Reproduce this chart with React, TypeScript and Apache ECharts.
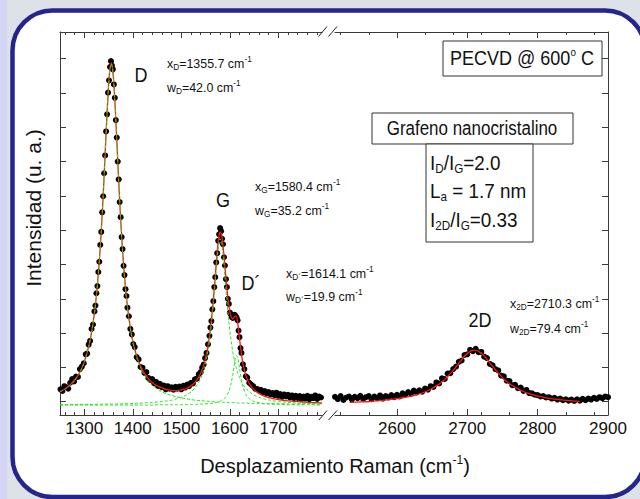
import React, { useEffect, useRef } from 'react';
import * as echarts from 'echarts';

// ---------- data ----------
const LEFT_MAJOR = [1300, 1400, 1500, 1600, 1700];
const LEFT_MINOR = [1260, 1280, 1320, 1340, 1360, 1380, 1420, 1440, 1460, 1480, 1520, 1540, 1560, 1580, 1620, 1640, 1660, 1680, 1720, 1740, 1760, 1780];
const RIGHT_MAJOR = [2600, 2700, 2800, 2900];
const RIGHT_MINOR = [2520, 2560, 2640, 2680, 2720, 2760, 2840, 2880];
const Y_TICKS = [0, 1, 2, 3, 4, 5, 6, 7, 8, 9, 10];

// measured spectrum, D / G / D' region
const RAMAN_LEFT: [number, number][] = [
  [1251, .36], [1255, .31], [1259, .45], [1263, .42], [1267, .38], [1271, .55], [1275, .66], [1279, .59], [1283, .73], [1287, .72],
  [1291, .95], [1295, 1.02], [1299, 1.12], [1303, 1.38], [1306, 1.40], [1309, 1.66], [1312, 1.77], [1315, 2.12], [1318, 2.25],
  [1321, 2.63], [1323, 2.80], [1325, 3.16], [1327, 3.37], [1329, 3.78], [1331, 4.08], [1333, 4.57], [1335, 4.95], [1337, 5.52],
  [1339, 5.99], [1341, 6.66], [1343, 7.18], [1345, 7.88], [1347, 8.38], [1349, 9.01], [1351, 9.37], [1353, 9.76], [1355, 9.93],
  [1357, 9.80], [1359, 9.69], [1361, 9.25], [1363, 8.86], [1365, 8.21], [1367, 7.70], [1369, 7.00], [1371, 6.48], [1373, 5.82],
  [1375, 5.38], [1377, 4.80], [1379, 4.45], [1381, 3.96], [1383, 3.69], [1385, 3.28], [1387, 3.08], [1389, 2.74], [1392, 2.49],
  [1395, 2.12], [1398, 1.96], [1401, 1.68], [1404, 1.59], [1408, 1.30], [1412, 1.23], [1416, 1.01],
  [1420, .99], [1424, .84], [1428, .86], [1432, .69], [1436, .63], [1440, .66], [1444, .53], [1448, .58], [1452, .46], [1456, .52],
  [1460, .42], [1464, .47], [1468, .36], [1472, .45], [1476, .38], [1480, .42], [1484, .35], [1488, .43], [1492, .38], [1496, .44],
  [1500, .36], [1504, .46], [1508, .41], [1512, .50], [1516, .45], [1520, .55], [1524, .53], [1528, .65], [1532, .67], [1536, .80],
  [1540, .86], [1543, .99], [1546, 1.08], [1549, 1.27], [1552, 1.42], [1555, 1.67], [1558, 1.92], [1560, 2.16], [1562, 2.35],
  [1564, 2.69], [1566, 2.93], [1568, 3.34], [1570, 3.63], [1572, 4.06], [1574, 4.33], [1576, 4.69], [1578, 4.88], [1580, 5.06],
  [1582, 4.97], [1584, 4.75], [1586, 4.59], [1588, 4.21], [1590, 3.97], [1592, 3.57], [1594, 3.34], [1596, 3.00], [1598, 2.85],
  [1600, 2.60], [1602, 2.55], [1604, 2.47], [1606, 2.44], [1608, 2.50], [1610, 2.53], [1612, 2.49], [1614, 2.45], [1616, 2.37],
  [1618, 2.07], [1620, 1.88], [1622, 1.56], [1624, 1.42], [1627, 1.09], [1630, .95], [1633, .74], [1636, .70], [1640, .55],
  [1644, .50], [1648, .45], [1652, .38], [1656, .37], [1660, .33], [1664, .34], [1668, .27], [1672, .31], [1676, .24], [1680, .28],
  [1684, .21], [1688, .25], [1692, .19], [1696, .26], [1700, .17], [1704, .22], [1708, .14], [1712, .21], [1716, .15], [1720, .20],
  [1724, .12], [1728, .18], [1732, .10], [1736, .17], [1740, .11], [1744, .16], [1748, .08], [1752, .15], [1756, .09], [1760, .17],
  [1764, .07], [1768, .14], [1772, .10], [1776, .18], [1780, .08], [1784, .15], [1788, .12],
];

// measured spectrum, 2D region
const RAMAN_RIGHT: [number, number][] = [
  [2512, .14], [2516, .07], [2520, .16], [2524, .05], [2528, .12], [2532, .15], [2536, .06], [2540, .14], [2544, .10], [2548, .17],
  [2552, .08], [2556, .13], [2560, .16], [2564, .07], [2568, .15], [2572, .10], [2576, .18], [2580, .09], [2584, .16], [2588, .12],
  [2592, .19], [2596, .13], [2600, .20], [2604, .15], [2608, .24], [2612, .20], [2616, .28], [2620, .23], [2624, .32], [2628, .27],
  [2632, .33], [2636, .29], [2640, .38], [2644, .35], [2648, .45], [2652, .43], [2656, .56], [2660, .53], [2664, .68], [2668, .66],
  [2672, .82], [2676, .83], [2680, .95], [2684, 1.02], [2688, 1.16], [2692, 1.20], [2696, 1.36], [2700, 1.38], [2704, 1.51],
  [2708, 1.47], [2712, 1.54], [2716, 1.44], [2720, 1.45], [2724, 1.31], [2728, 1.27], [2732, 1.10], [2736, 1.06], [2740, .95],
  [2744, .91], [2748, .76], [2752, .74], [2756, .61], [2760, .60], [2764, .48], [2768, .49], [2772, .39], [2776, .41], [2780, .31],
  [2784, .34], [2788, .25], [2792, .24], [2796, .20], [2800, .19], [2804, .15], [2808, .16], [2812, .12], [2816, .13], [2820, .09],
  [2824, .11], [2828, .06], [2832, .09], [2836, .04], [2840, .07], [2844, .03], [2848, .06], [2852, .02], [2856, .07], [2860, .03],
  [2864, .08], [2868, .04], [2872, .09], [2876, .06], [2880, .11], [2884, .08], [2888, .13], [2892, .10], [2896, .15], [2900, .13],
];

// fitted curves
const FIT_X = [1250, 1260, 1270, 1280, 1290, 1300, 1310, 1316, 1322, 1326, 1330, 1334, 1338, 1342, 1346, 1350, 1353, 1356, 1359, 1362,
  1366, 1370, 1374, 1378, 1382, 1386, 1390, 1396, 1402, 1410, 1420, 1430, 1440, 1450, 1460, 1470, 1480, 1490, 1500, 1510,
  1520, 1530, 1540, 1548, 1556, 1562, 1566, 1570, 1574, 1577, 1580, 1583, 1586, 1590, 1594, 1598, 1602, 1606, 1610, 1613,
  1616, 1620, 1624, 1628, 1634, 1640, 1650, 1660, 1670, 1680, 1700, 1720, 1740, 1760, 1790];
const FIT_TOTAL = [.29, .37, .48, .63, .84, 1.16, 1.66, 2.10, 2.71, 3.24, 3.91, 4.74, 5.74, 6.91, 8.13, 9.20, 9.72, 9.88, 9.64, 9.06,
  7.96, 6.73, 5.59, 4.62, 3.82, 3.17, 2.66, 2.07, 1.65, 1.25, .92, .71, .56, .46, .40, .35, .33, .32, .34, .38,
  .46, .59, .83, 1.15, 1.71, 2.37, 2.96, 3.66, 4.36, 4.76, 4.95, 4.87, 4.55, 3.93, 3.30, 2.80, 2.50, 2.41, 2.48, 2.50,
  2.33, 1.84, 1.38, 1.04, .72, .53, .35, .24, .17, .12, .06, .02, .00, -.02, -.04];
const FIT_D = [.28, .36, .46, .61, .82, 1.14, 1.64, 2.08, 2.68, 3.22, 3.88, 4.71, 5.72, 6.88, 8.10, 9.17, 9.69, 9.85, 9.61, 9.03,
  7.92, 6.70, 5.56, 4.58, 3.77, 3.13, 2.61, 2.03, 1.60, 1.20, .86, .64, .48, .37, .29, .22, .18, .14, .11, .08,
  .06, .04, .03, .02, .01, .00, .00, -.01, -.01, -.01, -.01, -.02, -.02, -.02, -.02, -.03, -.03, -.03, -.03, -.03,
  -.04, -.04, -.04, -.04, -.04, -.05, -.05, -.05, -.06, -.06, -.06, -.07, -.07, -.07, -.08];
const FIT_G = [-.09, -.09, -.08, -.08, -.08, -.08, -.08, -.08, -.08, -.08, -.08, -.08, -.07, -.07, -.07, -.07, -.07, -.07, -.07, -.07,
  -.07, -.07, -.07, -.06, -.06, -.06, -.06, -.06, -.05, -.05, -.04, -.03, -.03, -.01, .00, .02, .04, .08, .12, .19,
  .28, .43, .67, 1.01, 1.56, 2.22, 2.81, 3.50, 4.18, 4.58, 4.75, 4.65, 4.30, 3.64, 2.94, 2.33, 1.84, 1.46, 1.17, 1.00,
  .85, .70, .58, .48, .37, .29, .19, .13, .08, .05, .00, -.02, -.04, -.05, -.07];
const FIT_DP = [-.10, -.10, -.10, -.10, -.10, -.10, -.10, -.10, -.10, -.10, -.10, -.10, -.10, -.10, -.10, -.10, -.10, -.10, -.10, -.10,
  -.10, -.10, -.10, -.10, -.10, -.10, -.10, -.10, -.10, -.10, -.10, -.10, -.10, -.09, -.09, -.09, -.09, -.09, -.09, -.09,
  -.08, -.08, -.07, -.07, -.06, -.05, -.04, -.03, -.02, .00, .01, .04, .06, .11, .19, .30, .49, .78, 1.15, 1.34,
  1.31, .98, .63, .39, .19, .09, .00, -.03, -.06, -.07, -.08, -.09, -.09, -.09, -.10];

const FIT2D_X = [2533, 2550, 2570, 2590, 2610, 2630, 2645, 2660, 2670, 2680, 2690, 2700, 2710, 2720, 2730, 2740, 2750, 2760, 2775, 2790, 2810, 2830, 2860];
const FIT2D_TOTAL = [-.02, -.01, .02, .06, .12, .21, .33, .51, .69, .91, 1.17, 1.40, 1.50, 1.41, 1.18, .93, .70, .52, .34, .22, .12, .06, .01];

// ---------- styling ----------
const F = 'Arial, Liberation Sans, sans-serif';
const TXT = '#111111';
const AXIS = '#3a3a3a';
const RED = '#ff1515';
const GREEN = '#1fe41f';

function rich(size: number, sub: number) {
  return {
    a: { fontSize: size, fontFamily: F, fill: TXT, color: TXT, lineHeight: size + 4 },
    s: { fontSize: sub, fontFamily: F, fill: TXT, color: TXT, lineHeight: sub - 1, verticalAlign: 'bottom' },
    p: { fontSize: sub, fontFamily: F, fill: TXT, color: TXT, lineHeight: sub - 1, verticalAlign: 'top' },
  };
}

function txt(x: number, y: number, text: string, size: number, sub: number, align: string, scaleX = 1, rotation = 0) {
  return {
    type: 'text', x, y, z: 20, scaleX, rotation, silent: true,
    style: {
      text, rich: rich(size, sub), fontSize: size, fontFamily: F, fill: TXT,
      align, textAlign: align, verticalAlign: 'middle', textVerticalAlign: 'middle',
    },
  };
}

function box(x: number, y: number, w: number, h: number) {
  return { type: 'rect', z: 15, silent: true, shape: { x, y, width: w, height: h }, style: { fill: '#ffffff', stroke: '#333333', lineWidth: 1 } };
}

function slash(x1: number, y1: number, x2: number, y2: number) {
  return { type: 'line', z: 15, silent: true, shape: { x1, y1, x2, y2 }, style: { stroke: '#222222', lineWidth: 1 } };
}

function xAx(gridIndex: number, position: string, min: number, max: number, ticks: number[], len: number, line: boolean, labels: boolean) {
  return {
    type: 'value', gridIndex, position, min, max,
    axisLine: { show: line, onZero: false, lineStyle: { color: AXIS, width: 1 } },
    axisTick: { show: true, inside: true, length: len, customValues: ticks, lineStyle: { color: AXIS, width: 1 } },
    axisLabel: labels
      ? { show: true, customValues: ticks, fontSize: 17, fontFamily: F, color: TXT, margin: 5, formatter: (v: number) => String(v) }
      : { show: false },
    splitLine: { show: false },
    minorTick: { show: false },
  };
}

function yAx(gridIndex: number, position: string) {
  return {
    type: 'value', gridIndex, position, min: -0.39, max: 10.78,
    axisLine: { show: true, onZero: false, lineStyle: { color: AXIS, width: 1 } },
    axisTick: { show: true, inside: true, length: 6, customValues: Y_TICKS, lineStyle: { color: AXIS, width: 1 } },
    axisLabel: { show: false },
    splitLine: { show: false },
  };
}

const pairs = (xs: number[], ys: number[]) => xs.map((x, i) => [x, ys[i]]);

export default function App() {
  const ref = useRef<HTMLDivElement>(null);

  useEffect(() => {
    if (!ref.current) return;
    const chart = echarts.init(ref.current, undefined, { renderer: 'svg' });

    const greenLine = (data: number[][]) => ({
      type: 'line', xAxisIndex: 0, yAxisIndex: 0, data, symbol: 'none', showSymbol: false, smooth: 0.2, z: 4, silent: true,
      lineStyle: { color: GREEN, width: 1, type: [3, 2] },
    });

    const option: any = {
      animation: false,
      backgroundColor: 'transparent',
      grid: [
        { left: 60, right: 318, top: 32, bottom: 84, containLabel: false, outerBoundsMode: 'none' },
        { left: 335, right: 32, top: 32, bottom: 84, containLabel: false, outerBoundsMode: 'none' },
      ],
      xAxis: [
        xAx(0, 'bottom', 1250, 1790, LEFT_MAJOR, 6, true, true),
        xAx(0, 'bottom', 1250, 1790, LEFT_MINOR, 3, false, false),
        xAx(0, 'top', 1250, 1790, LEFT_MAJOR, 6, true, false),
        xAx(0, 'top', 1250, 1790, LEFT_MINOR, 3, false, false),
        xAx(1, 'bottom', 2512, 2900, RIGHT_MAJOR, 6, true, true),
        xAx(1, 'bottom', 2512, 2900, RIGHT_MINOR, 3, false, false),
        xAx(1, 'top', 2512, 2900, RIGHT_MAJOR, 6, true, false),
        xAx(1, 'top', 2512, 2900, RIGHT_MINOR, 3, false, false),
      ],
      yAxis: [yAx(0, 'left'), yAx(1, 'right')],
      series: [
        { type: 'scatter', xAxisIndex: 0, yAxisIndex: 0, data: RAMAN_LEFT, symbol: 'circle', symbolSize: 6, itemStyle: { color: '#000000', opacity: 1 }, z: 2, silent: true },
        { type: 'scatter', xAxisIndex: 4, yAxisIndex: 1, data: RAMAN_RIGHT, symbol: 'circle', symbolSize: 6, itemStyle: { color: '#000000', opacity: 1 }, z: 2, silent: true },
        { type: 'line', xAxisIndex: 0, yAxisIndex: 0, data: pairs(FIT_X, FIT_TOTAL), symbol: 'none', showSymbol: false, smooth: 0.2, z: 3, silent: true, lineStyle: { color: RED, width: 1.3 } },
        { type: 'line', xAxisIndex: 4, yAxisIndex: 1, data: pairs(FIT2D_X, FIT2D_TOTAL), symbol: 'none', showSymbol: false, smooth: true, z: 3, silent: true, lineStyle: { color: RED, width: 1.3 } },
        greenLine(pairs(FIT_X, FIT_D)),
        greenLine(pairs(FIT_X, FIT_G)),
        greenLine(pairs(FIT_X, FIT_DP)),
      ],
      graphic: {
        elements: [
          // page background and rounded frame
          { type: 'rect', z: -20, silent: true, shape: { x: 0, y: 0, width: 640, height: 499 }, style: { fill: '#dde1e8' } },
          { type: 'rect', z: -19, silent: true, shape: { x: 0, y: 0, width: 7, height: 499 }, style: { fill: '#d4d5f4' } },
          { type: 'rect', z: -18, silent: true, shape: { x: 12.5, y: 10.5, width: 632.5, height: 486.5, r: 40 }, style: { fill: '#ffffff', stroke: '#25258c', lineWidth: 4.5 } },
          // axis break marks
          slash(318.5, 36.5, 327, 26.5), slash(328.5, 36.5, 337, 26.5),
          slash(319, 420, 327, 410.5), slash(328.5, 420, 337, 410.5),
          // boxes
          box(443, 41, 159, 35),
          box(372, 113, 201, 31),
          box(426, 144, 107, 98),
          // box texts
          txt(522, 58.5, '{a|PECVD @ 600}{p|o}{a| C}', 20, 11, 'center', 0.9),
          txt(472, 128.5, '{a|Grafeno nanocristalino}', 19.5, 11, 'center', 0.87),
          txt(430, 163, '{a|I}{s|D}{a|/I}{s|G}{a|=2.0}', 21, 13, 'left', 0.9),
          txt(430, 191, '{a|L}{s|a}{a| = 1.7 nm}', 21, 13, 'left', 0.9),
          txt(430, 220, '{a|I}{s|2D}{a|/I}{s|G}{a|=0.33}', 21, 13, 'left', 0.9),
          // peak labels
          txt(141, 75, '{a|D}', 20, 11, 'center', 0.9),
          txt(223, 200, '{a|G}', 20, 11, 'center', 0.9),
          txt(251, 283, '{a|D´}', 20, 11, 'center', 0.9),
          txt(480, 320, '{a|2D}', 20, 11, 'center', 0.9),
          // peak parameters
          txt(167, 63, '{a|x}{s|D}{a|=1355.7 cm}{p|-1}', 13.5, 9, 'left', 0.92),
          txt(167, 87, '{a|w}{s|D}{a|=42.0 cm}{p|-1}', 13.5, 9, 'left', 0.92),
          txt(255, 186, '{a|x}{s|G}{a|=1580.4 cm}{p|-1}', 13.5, 9, 'left', 0.92),
          txt(255, 210, '{a|w}{s|G}{a|=35.2 cm}{p|-1}', 13.5, 9, 'left', 0.92),
          txt(286, 273, '{a|x}{s|D´}{a|=1614.1 cm}{p|-1}', 13.5, 9, 'left', 0.92),
          txt(286, 296, '{a|w}{s|D´}{a|=19.9 cm}{p|-1}', 13.5, 9, 'left', 0.92),
          txt(510, 303, '{a|x}{s|2D}{a|=2710.3 cm}{p|-1}', 13.5, 9, 'left', 0.92),
          txt(510, 328, '{a|w}{s|2D}{a|=79.4 cm}{p|-1}', 13.5, 9, 'left', 0.92),
          // axis titles
          txt(335, 466, '{a|Desplazamiento Raman (cm}{p|-1}{a|)}', 20, 12, 'center', 1),
          txt(33, 208, '{a|Intensidad (u. a.)}', 21, 12, 'center', 1, Math.PI / 2),
        ],
      },
    };

    chart.setOption(option);
    return () => chart.dispose();
  }, []);

  return <div ref={ref} style={{ position: 'absolute', left: 0, top: 0, width: 640, height: 499 }} />;
}
